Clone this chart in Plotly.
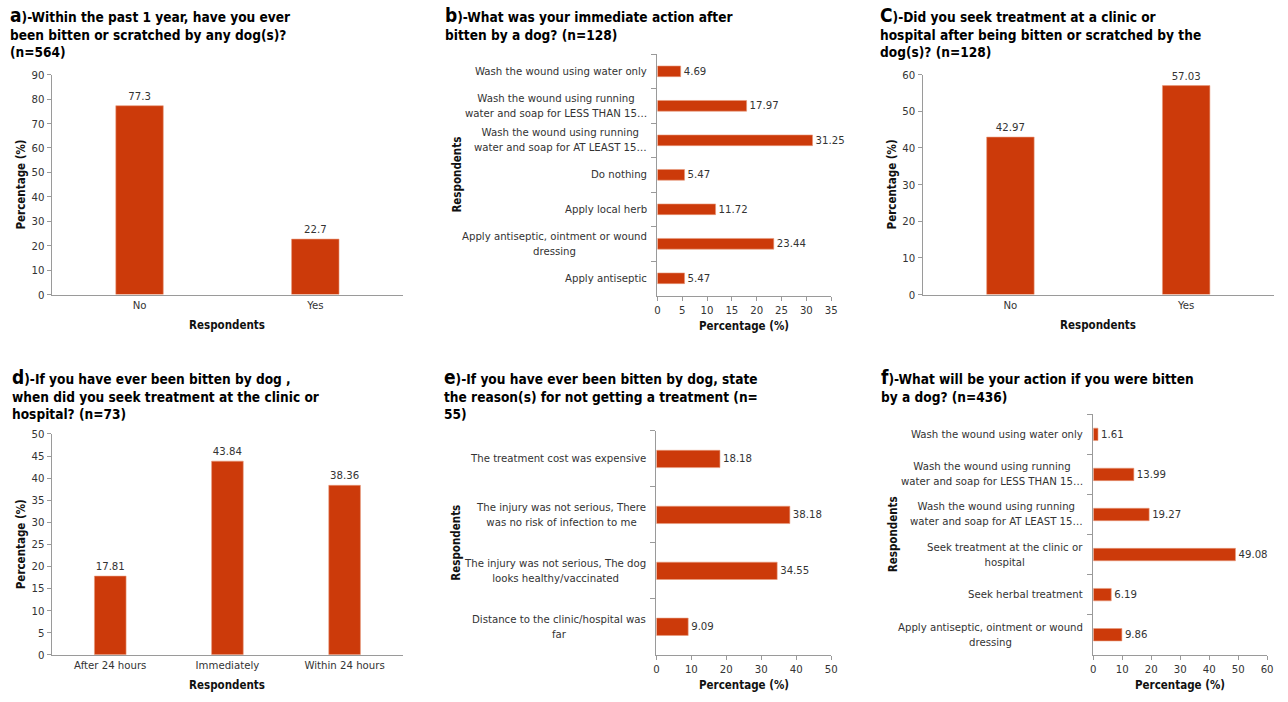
import plotly.graph_objects as go

# ---- data -------------------------------------------------------------
a_cats = ["No", "Yes"]
a_vals = [77.3, 22.7]

b_cats = [
    "Wash the wound using water only",
    "Wash the wound using running<br>water and soap for LESS THAN 15…",
    "Wash the wound using running<br>water and soap for AT LEAST 15…",
    "Do nothing",
    "Apply local herb",
    "Apply antiseptic, ointment or wound<br>dressing",
    "Apply antiseptic",
]
b_vals = [4.69, 17.97, 31.25, 5.47, 11.72, 23.44, 5.47]

c_cats = ["No", "Yes"]
c_vals = [42.97, 57.03]

d_cats = ["After 24 hours", "Immediately", "Within 24 hours"]
d_vals = [17.81, 43.84, 38.36]

e_cats = [
    "The treatment cost was expensive",
    "The injury was not serious, There<br>was no risk of infection to me",
    "The injury was not serious, The dog<br>looks healthy/vaccinated",
    "Distance to the clinic/hospital was<br>far",
]
e_vals = [18.18, 38.18, 34.55, 9.09]

f_cats = [
    "Wash the wound using water only",
    "Wash the wound using running<br>water and soap for LESS THAN 15…",
    "Wash the wound using running<br>water and soap for AT LEAST 15…",
    "Seek treatment at the clinic or<br>hospital",
    "Seek herbal treatment",
    "Apply antiseptic, ointment or wound<br>dressing",
]
f_vals = [1.61, 13.99, 19.27, 49.08, 6.19, 9.86]

titles = [
    ("a", ")-Within the past 1 year, have you ever<br>been bitten or scratched by any dog(s)?<br>(n=564)"),
    ("b", ")-What was your immediate action after<br>bitten by a dog? (n=128)"),
    ("C", ")-Did you seek treatment at a clinic or<br>hospital after being bitten or scratched by the<br>dog(s)? (n=128)"),
    ("d", ")-If you have ever been bitten by dog ,<br>when did you seek treatment at the clinic or<br>hospital? (n=73)"),
    ("e", ")-If you have ever been bitten by dog, state<br>the reason(s) for not getting a treatment (n=<br>55)"),
    ("f", ")-What will be your action if you were bitten<br>by a dog? (n=436)"),
]

# ---- styling ----------------------------------------------------------
W, H = 1288, 702
FONT = "DejaVu Sans Condensed, DejaVu Sans"
BAR = "#CC3A0A"
AXIS = "#9a9a9a"
TXT = "#333333"
LBL = 11.3


def px(x):
    return x / W


def py(y):
    return 1 - y / H


fig = go.Figure()

# plot areas in pixel units: (left, right, top, bottom)
boxes = {
    1: (49, 403, 70, 294),
    2: (659, 834, 49, 295),
    3: (926, 1280, 70, 294),
    4: (49, 403, 436, 661),
    5: (658, 834, 433, 661),
    6: (1098, 1273, 416, 661),
}

vertical = {1: (a_cats, a_vals, 90, 10), 3: (c_cats, c_vals, 60, 10), 4: (d_cats, d_vals, 50, 5)}
horizontal = {2: (b_cats, b_vals, 35, 5), 5: (e_cats, e_vals, 50, 10), 6: (f_cats, f_vals, 60, 10)}

layout = dict(
    width=W, height=H, margin=dict(l=0, r=0, t=0, b=0),
    paper_bgcolor="white", plot_bgcolor="white", showlegend=False,
    font=dict(family=FONT, size=LBL, color=TXT),
)
annotations = []
axis_title_font = dict(family=FONT, size=11.5, color="#111")

for i in range(1, 7):
    l, r, t, b = boxes[i]
    xa = "xaxis" if i == 1 else f"xaxis{i}"
    ya = "yaxis" if i == 1 else f"yaxis{i}"
    xr = "x" if i == 1 else f"x{i}"
    yr = "y" if i == 1 else f"y{i}"
    common = dict(showgrid=False, zeroline=False, showline=True, linecolor=AXIS, linewidth=1,
                  tickfont=dict(family=FONT, size=LBL, color=TXT), tickcolor=AXIS, fixedrange=True)
    if i in vertical:
        cats, vals, top, step = vertical[i]
        fig.add_trace(go.Bar(
            x=cats, y=vals, xaxis=xr, yaxis=yr, width=0.27,
            marker=dict(color=BAR, line=dict(color="#E89A7C", width=0.6)),
            text=[str(v) for v in vals], textposition="outside", constraintext="none",
            textfont=dict(family=FONT, size=LBL, color=TXT), cliponaxis=False,
        ))
        layout[xa] = dict(domain=[px(l), px(r)], anchor=yr, ticks="", **common)
        layout[ya] = dict(domain=[py(b), py(t)], anchor=xr, range=[0, top], dtick=step,
                          ticks="outside", ticklen=4, **common)
        annotations.append(dict(text="<b>Respondents</b>", xref="paper", yref="paper",
                                x=px((l + r) / 2), y=py(b + 31), xanchor="center", yanchor="middle",
                                showarrow=False, font=axis_title_font))
        annotations.append(dict(text="<b>Percentage (%)</b>", xref="paper", yref="paper",
                                x=px(l - 31), y=py((t + b) / 2), xanchor="center", yanchor="middle",
                                textangle=-90, showarrow=False, font=axis_title_font))
    else:
        cats, vals, top, step = horizontal[i]
        fig.add_trace(go.Bar(
            x=vals, y=cats, orientation="h", xaxis=xr, yaxis=yr, width=0.31,
            marker=dict(color=BAR, line=dict(color="#E89A7C", width=0.6)),
            text=[str(v) for v in vals], textposition="outside", constraintext="none",
            textfont=dict(family=FONT, size=LBL, color=TXT), cliponaxis=False,
        ))
        layout[xa] = dict(domain=[px(l), px(r)], anchor=yr, range=[0, top], dtick=step,
                          ticks="outside", ticklen=4, **common)
        layout[ya] = dict(domain=[py(b), py(t)], anchor=xr, autorange="reversed",
                          ticks="outside", ticklen=5, tickson="boundaries",
                          showticklabels=False, **common)
        for c in cats:
            annotations.append(dict(text=c, xref="paper", yref=yr, x=px(l - 8), y=c,
                                    xanchor="right", yanchor="middle", align="center",
                                    showarrow=False, font=dict(family=FONT, size=LBL, color=TXT)))
        annotations.append(dict(text="<b>Percentage (%)</b>", xref="paper", yref="paper",
                                x=px((l + r) / 2), y=py(b + 31), xanchor="center", yanchor="middle",
                                showarrow=False, font=axis_title_font))
        annotations.append(dict(text="<b>Respondents</b>", xref="paper", yref="paper",
                                x=px(l - 202), y=py((t + b) / 2), xanchor="center", yanchor="middle",
                                textangle=-90, showarrow=False, font=axis_title_font))

# panel titles
title_pos = [(5, -4), (443, -4), (881, -4), (7, 365), (442, 365), (882, 365)]
for (letter, rest), (tx, ty) in zip(titles, title_pos):
    annotations.append(dict(
        text=f"<b><span style='font-size:19px'>{letter}</span>{rest}</b>",
        xref="paper", yref="paper", x=px(tx), y=py(ty), xanchor="left", yanchor="top",
        align="left", showarrow=False, font=dict(family=FONT, size=13.6, color="#000"),
    ))

layout["annotations"] = annotations
fig.update_layout(**layout)
fig.write_html("out.html")
